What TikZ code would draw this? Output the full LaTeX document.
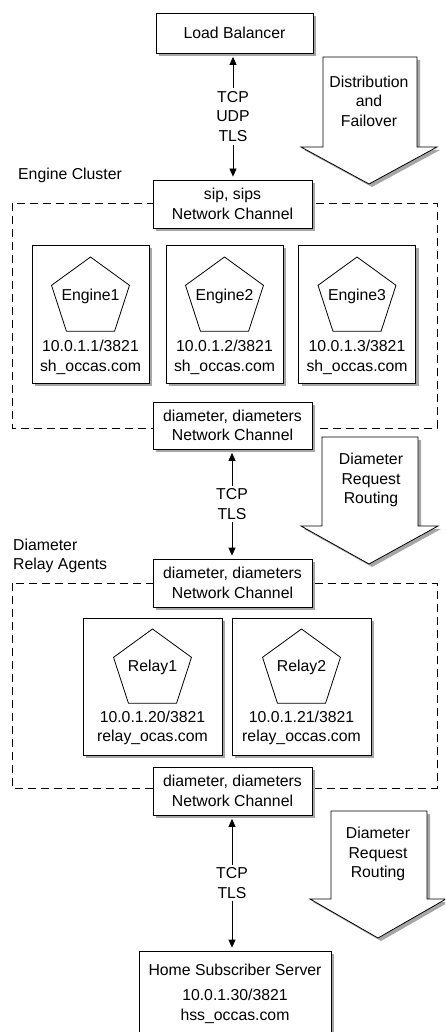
\documentclass[tikz,border=0pt]{standalone}
\usepackage{fontspec}
\setmainfont{Liberation Sans}
\usetikzlibrary{shapes.geometric,arrows.meta,shadows}
\begin{document}
\begin{tikzpicture}[x=1pt,y=-1pt,
  every node/.style={font=\fontsize{15.8}{19.5}\selectfont},
  box/.style={draw, fill=white, line width=0.8pt, inner sep=0pt, align=center,
    drop shadow={shadow xshift=3pt,shadow yshift=-3pt,fill=black!35,opacity=1}},
  penta/.style={draw, regular polygon, regular polygon sides=5, minimum size=82pt, inner sep=0pt, outer sep=0pt, line width=0.8pt},
  txt/.style={align=center, inner sep=0pt},
  cluster/.style={draw, line width=0.8pt, dash pattern=on 8pt off 5pt},
  conn/.style={line width=0.8pt, {Triangle[length=8pt,width=7pt]}-{Triangle[length=8pt,width=7pt]}, shorten <=3.5pt, shorten >=3pt},
  proto/.style={fill=white, align=center, inner sep=3pt},
  bigarrow/.style={draw, fill=white, line width=0.8pt},
  shadowfill/.style={fill=black!35}]
\clip (0,0) rectangle (445,1032);
\fill[white] (0,0) rectangle (445,1032);

% big arrows
\fill[shadowfill,shift={(3,3)}] (323,57) -- (417,57) -- (417,147) -- (437,147) -- (369,184) -- (301,147) -- (323,147) -- cycle;
\draw[bigarrow] (323,57) -- (417,57) -- (417,147) -- (437,147) -- (369,184) -- (301,147) -- (323,147) -- cycle;
\node[txt] (t1) at (369,101) {Distribution\\and\\Failover};

\fill[shadowfill,shift={(3,3)}] (322,437) -- (418,437) -- (418,526) -- (438,526) -- (369,564) -- (301,526) -- (322,526) -- cycle;
\draw[bigarrow] (322,437) -- (418,437) -- (418,526) -- (438,526) -- (369,564) -- (301,526) -- (322,526) -- cycle;
\node[txt] (t2) at (371,480) {Diameter\\Request\\Routing};

\fill[shadowfill,shift={(3,3)}] (331,811) -- (427,811) -- (427,899) -- (446,899) -- (378,938) -- (310,899) -- (331,899) -- cycle;
\draw[bigarrow] (331,811) -- (427,811) -- (427,899) -- (446,899) -- (378,938) -- (310,899) -- (331,899) -- cycle;
\node[txt] (t3) at (378,854) {Diameter\\Request\\Routing};

% clusters
\draw[cluster] (12,203) rectangle (437,428);
\draw[cluster] (12,583) rectangle (437,788);
\node[txt, anchor=west] (lc1) at (18,175) {Engine Cluster};
\node[txt, anchor=west, align=left] (lc2) at (13,556) {Diameter\\Relay Agents};

% top
\node[box, minimum width=157pt, minimum height=40pt] (lb) at (234.5,33) {Load Balancer};
\node[box, minimum width=159pt, minimum height=48pt] (sip) at (232.5,204) {sip, sips\\Network Channel};

% engines
\foreach \n/\x/\ip in {1/90.5/10.0.1.1, 2/224.5/10.0.1.2, 3/357/10.0.1.3} {
  \node[box, minimum width=117pt, minimum height=138pt] (eb\n) at (\x,314) {};
  \node[penta] (e\n) at (\x,298) {};
  \node[txt] (el\n) at (\x,296) {Engine\n};
  \node[txt] (ei\n) at (\x,357.5) {\ip/3821\\sh\_occas.com};
}

\node[box, minimum width=159pt, minimum height=47pt] (d1) at (232.5,425.5) {diameter, diameters\\Network Channel};
\node[box, minimum width=159pt, minimum height=48pt] (d2) at (232.5,583) {diameter, diameters\\Network Channel};

% relays
\node[box, minimum width=139pt, minimum height=137pt] (rb1) at (152.5,686.5) {};
\node[penta] (r1) at (152.5,670) {};
\node[txt] (rl1) at (152.5,667) {Relay1};
\node[txt] (ri1) at (152.5,728) {10.0.1.20/3821\\relay\_ocas.com};
\node[box, minimum width=139pt, minimum height=137pt] (rb2) at (301.5,686.5) {};
\node[penta] (r2) at (301.5,670) {};
\node[txt] (rl2) at (301.5,667) {Relay2};
\node[txt] (ri2) at (301.5,728) {10.0.1.21/3821\\relay\_occas.com};

\node[box, minimum width=159pt, minimum height=48pt] (d3) at (232.5,791) {diameter, diameters\\Network Channel};

\node[box, minimum width=192pt, minimum height=85pt] (hss) at (235,993.5) {Home Subscriber Server\\[6pt]10.0.1.30/3821\\hss\_occas.com};

% connectors
\draw[conn] (lb.south -| 233,0) -- node[proto] {TCP\\UDP\\TLS} (sip.north -| 233,0);
\draw[conn] (d1.south -| 232,0) -- node[proto] {TCP\\TLS} (d2.north -| 232,0);
\draw[conn] (d3.south -| 232,0) -- node[proto] {TCP\\TLS} (hss.north -| 232,0);
\end{tikzpicture}
\end{document}
